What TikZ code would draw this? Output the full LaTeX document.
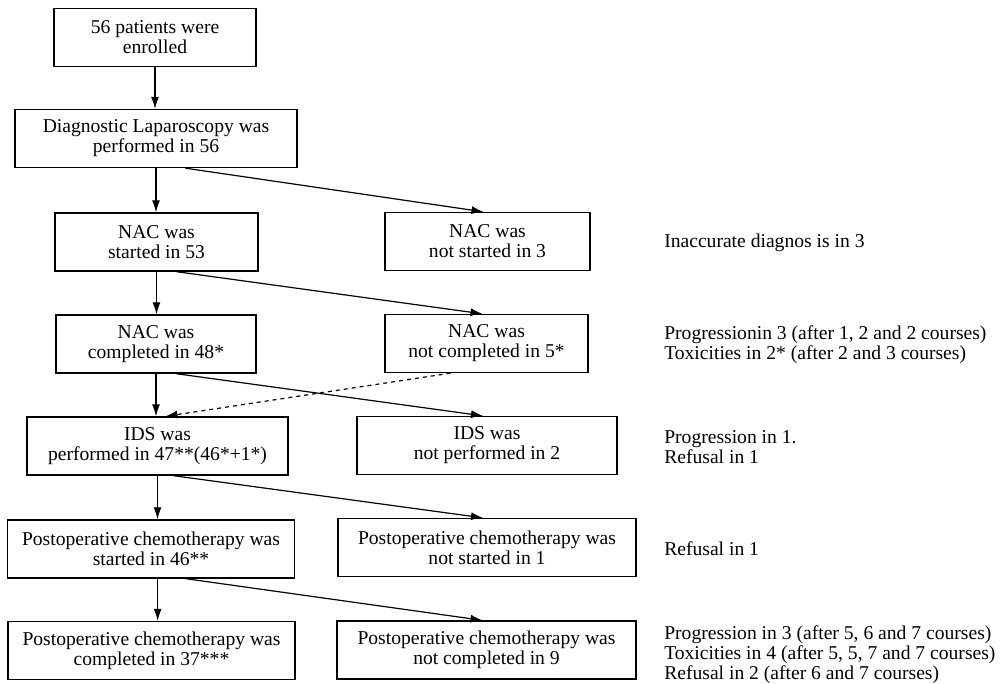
\documentclass[tikz,border=0pt]{standalone}
\usepackage{fontspec}
\setmainfont{Liberation Serif}
\usetikzlibrary{arrows.meta}

\begin{document}
\begin{tikzpicture}[x=0.75pt,y=-0.75pt,
  box/.style={draw,line width=1pt,align=center,minimum height=43.5pt,inner sep=0pt,font=\fontsize{14.7}{15}\selectfont},
  note/.style={anchor=west,align=left,inner sep=0pt,font=\fontsize{14.7}{15}\selectfont},
  arr/.style={-{Latex[length=9pt,width=6pt]},line width=0.9pt}]
\useasboundingbox (0,0) rectangle (1006,684);

\node[box,minimum width=151.5pt] (enrol) at (155,37.5) {56 patients were\\enrolled};
\node[box,minimum width=211.5pt] (diag) at (156,138.5) {Diagnostic Laparoscopy was\\performed in 56};
\node[box,minimum width=152.25pt] (start) at (156.5,242) {NAC was\\started in 53};
\node[box,minimum width=150pt] (compl) at (156,344) {NAC was\\completed in 48*};
\node[box,minimum width=195.75pt] (ids) at (157.5,446) {IDS was\\performed in 47**(46*+1*)};
\node[box,minimum width=215.25pt] (postS) at (151,549) {Postoperative chemotherapy was\\started in 46**};
\node[box,minimum width=215.25pt] (postC) at (151.5,650.5) {Postoperative chemotherapy was\\completed in 37***};

\node[box,minimum width=153.75pt] (nostart) at (487.5,241.5) {NAC was\\not started in 3};
\node[box,minimum width=152.25pt] (nocompl) at (486.5,343.5) {NAC was\\not completed in 5*};
\node[box,minimum width=195pt] (noids) at (487,445.5) {IDS was\\not performed in 2};
\node[box,minimum width=223.5pt] (nopostS) at (487,547.5) {Postoperative chemotherapy was\\not started in 1};
\node[box,minimum width=224.25pt] (nopostC) at (486.5,650) {Postoperative chemotherapy was\\not completed in 9};

\node[note] (n1) at (664,243) {Inaccurate diagnos is in 3};
\node[note] (n2) at (664,345) {Progressionin 3 (after 1, 2 and 2 courses)\\Toxicities in 2* (after 2 and 3 courses)};
\node[note] (n3) at (664,447) {Progression in 1.\\Refusal in 1};
\node[note] (n4) at (664,549) {Refusal in 1};
\node[note] (n5) at (664,655) {Progression in 3 (after 5, 6 and 7 courses)\\Toxicities in 4 (after 5, 5, 7 and 7 courses)\\Refusal in 2 (after 6 and 7 courses)};

\draw[arr] (enrol.south) -- (enrol.south |- diag.north);
\draw[arr] (diag.south) -- (diag.south |- start.north);
\draw[arr] (start.south) -- (start.south |- compl.north);
\draw[arr] (compl.south) -- (compl.south |- ids.north);
\draw[arr] (ids.south) -- (ids.south |- postS.north);
\draw[arr] ([xshift=5pt]postS.south) -- ([xshift=5pt]postS.south |- postC.north);

\draw[arr] ([xshift=22pt]diag.south) -- ([xshift=-3pt]nostart.north);
\draw[arr] ([xshift=15pt]start.south) -- ([xshift=-3pt]nocompl.north);
\draw[arr] ([xshift=15pt]compl.south) -- ([xshift=-3pt]noids.north);
\draw[arr] ([xshift=12pt]ids.south) -- ([xshift=-3pt]nopostS.north);
\draw[arr] ([xshift=26pt]postS.south) -- ([xshift=-3pt]nopostC.north);

\draw[arr,dashed] ([xshift=-27pt]nocompl.south) -- ([xshift=6pt]ids.north);

\end{tikzpicture}
\end{document}
